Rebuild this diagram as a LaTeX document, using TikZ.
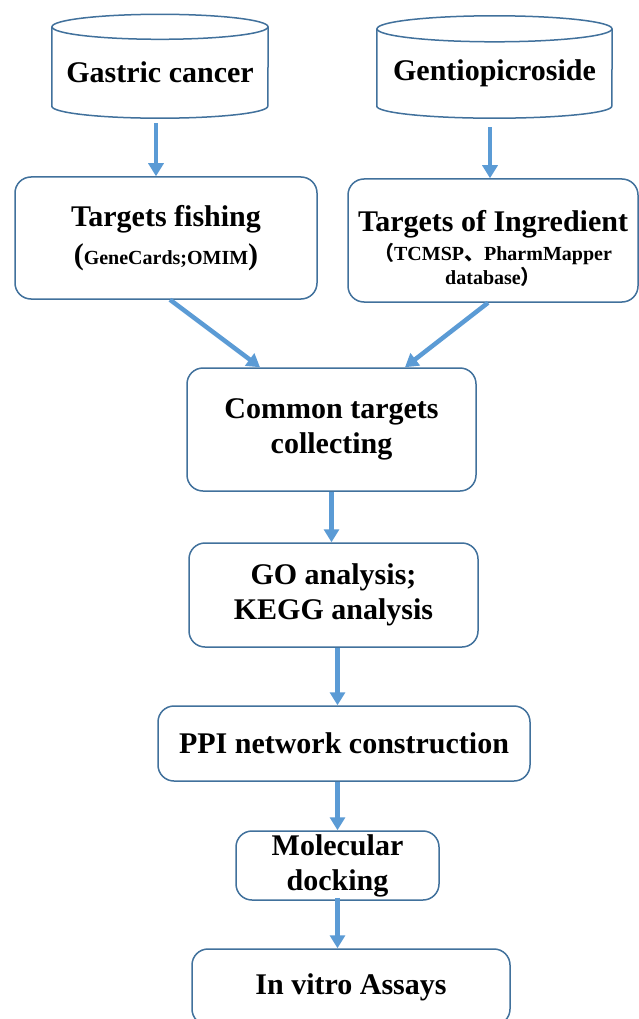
\documentclass[tikz,border=0pt]{standalone}
\usepackage{fontspec}
\setmainfont{Liberation Serif}
\newfontfamily\cjk{Noto Sans CJK SC}
\usetikzlibrary{arrows.meta, positioning}
\definecolor{boxblue}{RGB}{65, 113, 156}
\definecolor{flowblue}{RGB}{91, 155, 213}

\begin{document}
\begin{tikzpicture}[x=1pt, y=-1pt,
    every node/.style={font=\fontsize{30}{35}\selectfont\bfseries, align=center, inner sep=2pt},
    stage/.style={draw=boxblue, line width=1.5pt, rounded corners=16pt},
    drum/.style={boxblue, line width=1.5pt},
    flow/.style={flowblue, line width=4.5pt, -{Triangle[width=15pt, length=13pt]}}]
    \fill[white] (0,0) rectangle (639,1019);
    \useasboundingbox (0,0) rectangle (639,1019);

    \node[minimum width=216pt, minimum height=91pt] (gastric) at (160,72.5) {Gastric cancer};
    \node[minimum width=235pt, minimum height=89pt] (gentio) at (494.5,73.5) {Gentiopicroside};
    \draw[drum] (gastric.north) ellipse[x radius=108pt, y radius=12.5pt];
    \draw[drum] (gastric.north west) -- ([yshift=12pt]gastric.south west) arc[start angle=180, end angle=360, x radius=108pt, y radius=12pt] -- (gastric.north east);
    \draw[drum] (gentio.north) ellipse[x radius=117.5pt, y radius=13pt];
    \draw[drum] (gentio.north west) -- ([yshift=12pt]gentio.south west) arc[start angle=180, end angle=360, x radius=117.5pt, y radius=12pt] -- (gentio.north east);

    \node[stage, minimum width=302pt, minimum height=122pt] (fishing) at (166,238) {Targets fishing\\[3pt]({\fontsize{20}{24}\selectfont GeneCards;OMIM})};
    \node[stage, minimum width=290pt, minimum height=123pt] (ingredient) at (493,240.5) {\mbox{}\\[1.5pt]Targets of Ingredient\\[-6pt]{\fontsize{20}{24}\selectfont{\cjk （}TCMSP{\cjk 、}PharmMapper}\\[-11pt]{\fontsize{20}{24}\selectfont database{\cjk ）}}};
    \node[stage, minimum width=289pt, minimum height=123pt] (common) at (331.5,429.5) {Common targets\\collecting};
    \node[stage, minimum width=289pt, minimum height=104pt] (go) at (333.5,595) {GO analysis;\\KEGG analysis};
    \node[stage, minimum width=372pt, minimum height=75pt] (ppi) at (344,743.5) {PPI network construction};
    \node[stage, minimum width=203pt, minimum height=69pt, inner sep=0pt] (docking) at (337.5,865.5) {Molecular\\docking};
    \node[stage, minimum width=318pt, minimum height=76pt] (vitro) at (351,987) {In vitro Assays};

    \draw[flow] ([shift={(-4pt,-5pt)}]gastric.south) -- ([xshift=-4pt]gastric.south |- fishing.north);
    \draw[flow] ([shift={(-4.5pt,-9pt)}]gentio.south) -- ([xshift=-4.5pt]gentio.south |- ingredient.north);
    \draw[flow] ([xshift=4pt]fishing.south) -- ([xshift=-71.5pt]common.north);
    \draw[flow] ([xshift=-5pt]ingredient.south) -- ([xshift=73.5pt]common.north);
    \draw[flow] (common.south) -- (common.south |- go.north);
    \draw[flow] (go.south -| docking) -- (ppi.north -| docking);
    \draw[flow] (ppi.south -| docking) -- (docking.north);
    \draw[flow] ([yshift=3pt]docking.south) -- (docking.south |- vitro.north);
\end{tikzpicture}
\end{document}
